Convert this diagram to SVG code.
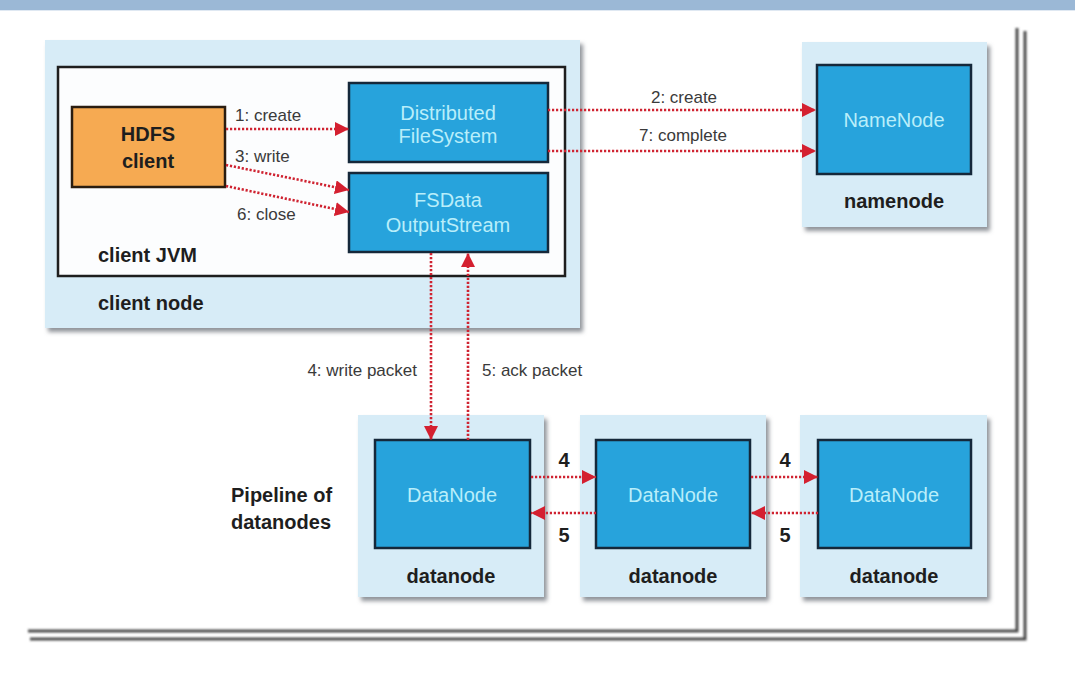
<svg xmlns="http://www.w3.org/2000/svg" width="1075" height="675" viewBox="0 0 1075 675">
<style>
.lbl{font-family:"Liberation Sans",Arial,sans-serif;font-size:17px;fill:#3a3a3a}
.bold{font-family:"Liberation Sans",Arial,sans-serif;font-size:20px;font-weight:bold;fill:#1e1e1e}
.inner{font-family:"Liberation Sans",Arial,sans-serif;font-size:20px;fill:#b9eefa;text-anchor:middle}
.outer{fill:#d7ecf7;filter:url(#sh)}
.box{fill:#27a3dc;stroke:#15283a;stroke-width:2.5}
.conn{stroke:#cf2331;stroke-width:2.6;stroke-dasharray:2.2 1.8;fill:none;marker-end:url(#ah)}
.frame{stroke:#4a4a4a;stroke-width:3;fill:none}
</style>
<defs>
<filter id="sh" x="-10%" y="-10%" width="125%" height="125%">
<feDropShadow dx="3" dy="4" stdDeviation="2" flood-color="#6a7078" flood-opacity="0.75"/>
</filter>
<filter id="blur"><feGaussianBlur stdDeviation="0.8"/></filter>
<marker id="ah" markerWidth="14" markerHeight="14" viewBox="0 0 14 14" refX="14" refY="7" orient="auto" markerUnits="userSpaceOnUse">
<path d="M0,0 L14,7 L0,14 Z" fill="#d42030"/>
</marker>
</defs>
<rect width="1075" height="675" fill="#ffffff"/>
<rect x="0" y="0" width="1075" height="10" fill="#9bb8d6"/>
<rect x="0" y="10" width="1075" height="1" fill="#dfe8f2"/>
<g id="frame" filter="url(#blur)">
<path class="frame" d="M1017,28 V631 H28"/>
<path class="frame" d="M1025,31 V639 H30"/>
</g>
<g id="client-node">
<rect class="outer" x="45" y="40" width="535" height="288"/>
<text class="bold" x="98" y="310">client node</text>
</g>
<g id="client-jvm">
<rect x="58" y="67" width="507" height="209" fill="#fcfdfe" stroke="#1e1e1e" stroke-width="2.5"/>
<text class="bold" x="98" y="262">client JVM</text>
</g>
<g id="hdfs-client">
<rect x="72" y="107" width="153" height="80" fill="#f6aa52" stroke="#2a1d10" stroke-width="2.5"/>
<text class="bold" x="148" y="141" text-anchor="middle" fill="#2b1e12">HDFS</text>
<text class="bold" x="148" y="168" text-anchor="middle" fill="#2b1e12">client</text>
</g>
<g id="distributed-filesystem">
<rect class="box" x="349" y="83" width="199" height="79"/>
<text class="inner" x="448" y="120">Distributed</text>
<text class="inner" x="448" y="143">FileSystem</text>
</g>
<g id="fsdata-outputstream">
<rect class="box" x="349" y="173" width="199" height="79"/>
<text class="inner" x="448" y="207">FSData</text>
<text class="inner" x="448" y="232">OutputStream</text>
</g>
<g id="namenode">
<rect class="outer" x="802" y="42" width="185" height="185"/>
<rect class="box" x="817" y="65" width="154" height="109"/>
<text class="inner" x="894" y="127">NameNode</text>
<text class="bold" x="894" y="208" text-anchor="middle">namenode</text>
</g>
<g id="datanode1">
<rect class="outer" x="358" y="415" width="186" height="182"/>
<rect class="box" x="375" y="440" width="155" height="108"/>
<text class="inner" x="452" y="502">DataNode</text>
<text class="bold" x="451" y="583" text-anchor="middle">datanode</text>
</g>
<g id="datanode2">
<rect class="outer" x="580" y="415" width="186" height="182"/>
<rect class="box" x="596" y="440" width="154" height="108"/>
<text class="inner" x="673" y="502">DataNode</text>
<text class="bold" x="673" y="583" text-anchor="middle">datanode</text>
</g>
<g id="datanode3">
<rect class="outer" x="800" y="415" width="187" height="182"/>
<rect class="box" x="818" y="440" width="153" height="108"/>
<text class="inner" x="894" y="502">DataNode</text>
<text class="bold" x="894" y="583" text-anchor="middle">datanode</text>
</g>
<g id="pipeline-label">
<text class="bold" x="231" y="502">Pipeline of</text>
<text class="bold" x="231" y="529">datanodes</text>
</g>
<g id="connectors">
<path class="conn" d="M226,129 L349,129"/>
<path class="conn" d="M226,165 L349,190"/>
<path class="conn" d="M226,186 L349,212"/>
<path class="conn" d="M548,110 L816,110"/>
<path class="conn" d="M548,151 L816,151"/>
<path class="conn" d="M431,253 L431,440"/>
<path class="conn" d="M468,440 L468,253"/>
<path class="conn" d="M531,477 L596,477"/>
<path class="conn" d="M751,477 L818,477"/>
<path class="conn" d="M596,513 L531,513"/>
<path class="conn" d="M818,513 L751,513"/>
<text class="lbl" x="235" y="121">1: create</text>
<text class="lbl" x="235" y="162">3: write</text>
<text class="lbl" x="237" y="220">6: close</text>
<text class="lbl" x="684" y="103" text-anchor="middle">2: create</text>
<text class="lbl" x="683" y="141" text-anchor="middle">7: complete</text>
<text class="lbl" x="417" y="376" text-anchor="end">4: write packet</text>
<text class="lbl" x="482" y="376">5: ack packet</text>
<text class="bold" x="564" y="467" text-anchor="middle">4</text>
<text class="bold" x="564" y="542" text-anchor="middle">5</text>
<text class="bold" x="785" y="467" text-anchor="middle">4</text>
<text class="bold" x="785" y="542" text-anchor="middle">5</text>
</g>
</svg>
